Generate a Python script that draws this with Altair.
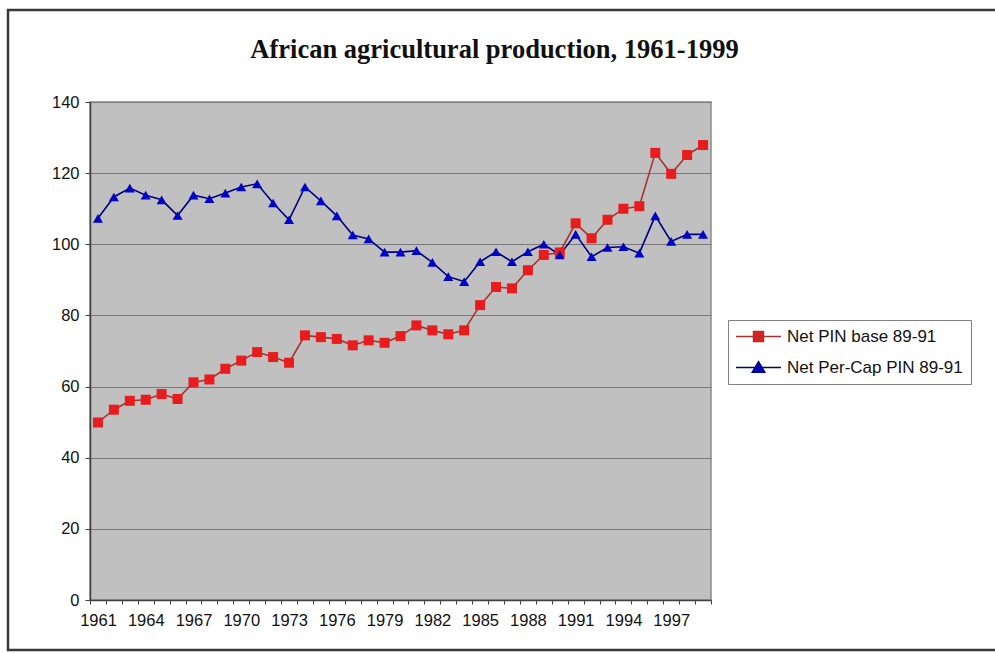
import altair as alt
import pandas as pd

years = list(range(1961, 2000))
series_names = ["Net PIN base 89-91", "Net Per-Cap PIN 89-91"]
net_pin = [49.9, 53.5, 56.0, 56.3, 57.9, 56.5, 61.2, 62.0, 65.0, 67.3,
           69.7, 68.3, 66.7, 74.4, 73.9, 73.4, 71.6, 73.0, 72.3, 74.2,
           77.2, 75.8, 74.7, 75.8, 82.9, 88.0, 87.6, 92.7, 97.0, 97.7,
           105.9, 101.7, 106.9, 110.0, 110.7, 125.7, 119.8, 125.1, 127.9]
per_cap = [107.3, 113.3, 115.8, 113.8, 112.5, 108.1, 113.8, 112.8, 114.4, 116.1,
           117.0, 111.6, 106.9, 116.1, 112.2, 108.0, 102.6, 101.5, 97.8, 97.8,
           98.2, 94.9, 90.9, 89.5, 95.1, 97.9, 95.1, 97.9, 100.0, 97.0,
           102.8, 96.5, 99.1, 99.3, 97.5, 108.0, 100.8, 102.8, 102.8]
y_ticks = [0, 20, 40, 60, 80, 100, 120, 140]

rows = []
for yr, a, b in zip(years, net_pin, per_cap):
    rows.append({"year": yr, "series": series_names[0], "value": a})
    rows.append({"year": yr, "series": series_names[1], "value": b})
df = pd.DataFrame(rows)

marker_colors = ["#e81c1c", "#0000c8"]
line_colors = ["#a83232", "#000080"]
marker_shapes = ["square", "triangle-up"]
legend_shapes = ["M-4.5,0H4.5M-1,-1H1V1H-1Z", "M-4.5,0H4.5M0,-1.15L1.25,0.95H-1.25Z"]
FONT = "Liberation Sans"

boundaries = [y - 0.5 for y in years] + [years[-1] + 0.5]

x_enc = alt.X(
    "year:Q",
    scale=alt.Scale(domain=[boundaries[0], boundaries[-1]], nice=False, zero=False),
    axis=alt.Axis(
        title=None, values=boundaries, grid=False,
        labelExpr="(datum.value < 1999) && ((datum.value + 0.5 - 1961) % 3 == 0) ? format(datum.value + 0.5, 'd') : ''",
        labelOffset=8, labelOverlap=False, labelFlush=False, labelBound=False,
        tickSize=4, tickColor="#404040", domainColor="#404040", domainWidth=1.5,
        labelFont=FONT, labelFontSize=16.5, labelColor="#111", labelPadding=8,
    ),
)
y_enc = alt.Y(
    "value:Q",
    scale=alt.Scale(domain=[0, 140], nice=False),
    axis=alt.Axis(
        title=None, values=y_ticks, grid=True, gridColor="#7a7a7a", gridWidth=1,
        tickSize=5, tickColor="#404040", domainColor="#404040", domainWidth=1.5,
        labelFont=FONT, labelFontSize=16.5, labelColor="#111", labelPadding=6,
    ),
)

base = alt.Chart(df)

line_layers = []
point_layers = []
for name, lc, mc, shp in zip(series_names, line_colors, marker_colors, marker_shapes):
    sub = base.transform_filter(alt.datum.series == name)
    line_layers.append(
        sub.mark_line(strokeWidth=1.6, color=lc).encode(x=x_enc, y=y_enc)
    )
    point_layers.append(
        sub.mark_point(filled=True, opacity=1, strokeWidth=0, shape=shp, size=100, color=mc)
        .encode(x=x_enc, y=y_enc)
    )

leg = alt.Legend(
    title=None, orient="none", legendX=638, legendY=218,
    labelFont=FONT, labelFontSize=17, labelColor="#111", labelLimit=400,
    symbolSize=100, symbolStrokeWidth=1.5, symbolOffset=14, labelOffset=20,
    symbolOpacity=1, rowPadding=13, padding=8, strokeColor="#808080", fillColor="white",
)

legend_layer = base.transform_filter("false").mark_point(filled=True, opacity=1).encode(
    x=x_enc, y=y_enc,
    fill=alt.Fill("series:N", scale=alt.Scale(domain=series_names, range=marker_colors), legend=leg),
    stroke=alt.Stroke("series:N", scale=alt.Scale(domain=series_names, range=line_colors), legend=leg),
    shape=alt.Shape("series:N", scale=alt.Scale(domain=series_names, range=legend_shapes), legend=leg),
)

frame = alt.Chart(alt.Data(values=[{"f": 1}])).mark_rect(
    filled=False, stroke="#3a3a3a", strokeWidth=2.5
).encode(
    x=alt.value(-82), x2=alt.value(912), y=alt.value(-92), y2=alt.value(548)
)

chart = alt.layer(frame, *line_layers, *point_layers, legend_layer).properties(
    width=621, height=498,
    background="white",
    autosize=alt.AutoSizeParams(type="none"),
    padding={"left": 90, "top": 102, "right": 284, "bottom": 53},
    title=alt.TitleParams(
        "African agricultural production, 1961-1999",
        font="Liberation Serif", fontSize=26.5, fontWeight="bold", color="#111",
        anchor="middle", dx=94, offset=-55,
    ),
).configure_view(
    fill="#c0c0c0", stroke="#8a8a8a", strokeWidth=1.5,
)

chart.save("out.html", embed_options={"renderer": "svg", "actions": False})
